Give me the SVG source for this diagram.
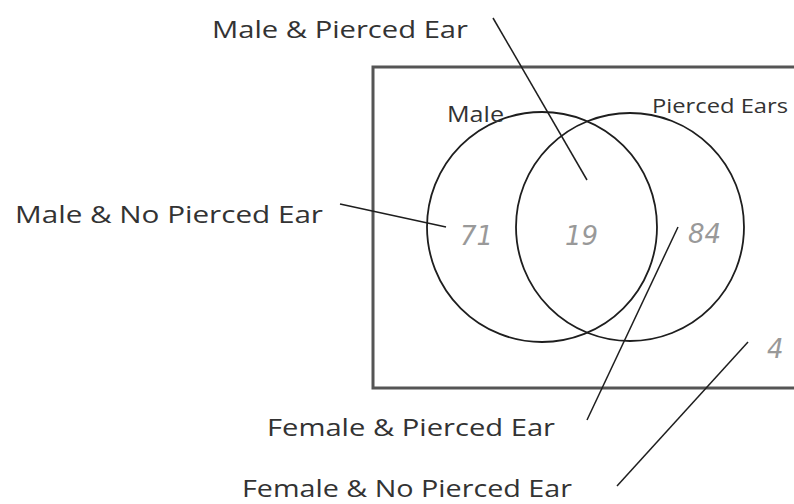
<svg xmlns="http://www.w3.org/2000/svg" width="794" height="504" viewBox="0 0 794 504">
<style>
.lbl{font-family:"Open Sans","Liberation Sans",sans-serif;font-size:24px;fill:#333}
.sm{font-family:"Open Sans","Liberation Sans",sans-serif;font-size:20px;fill:#333}
.num{font-family:"DejaVu Sans","Liberation Sans",sans-serif;font-weight:200;font-style:italic;font-size:26px;fill:#999}
.ln{stroke:#1e1e1e;stroke-width:1.5;fill:none}
.circ{stroke:#1e1e1e;stroke-width:1.8;fill:none}
</style>
<rect width="794" height="504" fill="#fff"/>
<g id="universe">
<rect x="373" y="67" width="440" height="321" fill="none" stroke="#555" stroke-width="3"/>
<text class="num" x="767" y="358">4</text>
</g>
<g id="male">
<circle class="circ" cx="542" cy="227" r="115"/>
<text class="sm" x="447" y="122" style="font-size:22px" textLength="57" lengthAdjust="spacingAndGlyphs">Male</text>
<text class="num" x="460" y="245">71</text>
</g>
<g id="pierced">
<circle class="circ" cx="630" cy="227" r="114"/>
<text class="sm" x="652" y="113" textLength="136" lengthAdjust="spacingAndGlyphs">Pierced Ears</text>
<text class="num" x="688" y="243">84</text>
</g>
<g id="intersection">
<text class="num" x="565" y="245">19</text>
</g>
<g id="labels">
<text class="lbl" x="212" y="38" textLength="256" lengthAdjust="spacingAndGlyphs">Male &amp; Pierced Ear</text>
<text class="lbl" x="15" y="223" textLength="308" lengthAdjust="spacingAndGlyphs">Male &amp; No Pierced Ear</text>
<text class="lbl" x="267" y="436" textLength="288" lengthAdjust="spacingAndGlyphs">Female &amp; Pierced Ear</text>
<text class="lbl" x="242" y="497" textLength="330" lengthAdjust="spacingAndGlyphs">Female &amp; No Pierced Ear</text>
</g>
<g id="connectors">
<line class="ln" x1="493" y1="18" x2="587" y2="180"/>
<line class="ln" x1="340" y1="204" x2="446" y2="227"/>
<line class="ln" x1="678" y1="227" x2="587" y2="420"/>
<line class="ln" x1="748" y1="342" x2="617" y2="486"/>
</g>
</svg>
